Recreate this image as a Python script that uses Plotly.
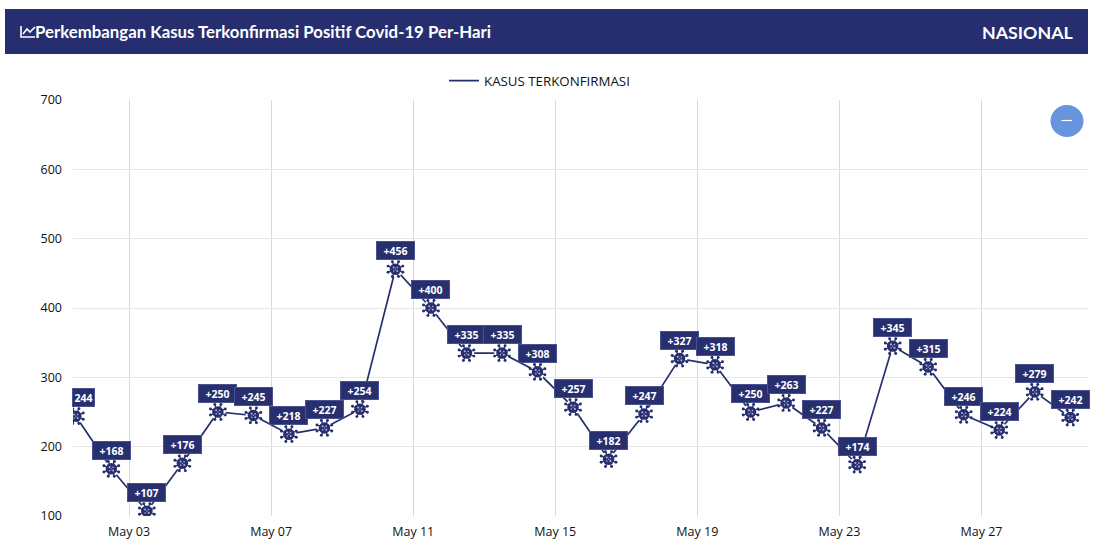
import base64
import math
import plotly.graph_objects as go
import pandas as pd

dates = pd.date_range("2020-05-01", "2020-05-29").strftime("%Y-%m-%d").tolist()
kasus = [244,168,107,176,250,245,218,227,254,456,400,335,335,308,257,182,247,327,318,250,263,227,174,345,315,246,224,279,242]

title_text = "Perkembangan Kasus Terkonfirmasi Positif Covid-19 Per-Hari"
region_text = "NASIONAL"
series_name = "KASUS TERKONFIRMASI"

W, H = 1096, 558
L, R, T, B = 73, 8, 100, 42
NAVY = "#272f6f"
HEAD = "#262e70"
pw, ph = W - L - R, H - T - B
px = lambda v: (v - L) / pw
py = lambda v: 1 - (v - T) / ph

# virus glyph used as the point symbol
spokes = ""
for k in range(8):
    a = math.radians(22.5 + 45 * k)
    c, s = math.cos(a), math.sin(a)
    spokes += (f'<line x1="{4*c:.2f}" y1="{4*s:.2f}" x2="{7.6*c:.2f}" y2="{7.6*s:.2f}" stroke="{NAVY}" stroke-width="1.2"/>'
               f'<circle cx="{7.8*c:.2f}" cy="{7.8*s:.2f}" r="1.45" fill="{NAVY}"/>')
inner = "".join(f'<circle cx="{a}" cy="{b}" r="{r}" fill="#aeb1d2"/>'
                for a, b, r in [(-1.7, -1.7, 1.0), (1.7, -1.5, .8), (1.8, 1.7, 1.0), (-1.6, 1.8, .8), (0, 0, .6)])
svg = (f'<svg xmlns="http://www.w3.org/2000/svg" width="100" height="100" viewBox="-10 -10 20 20">'
       f'<circle r="7.6" fill="white"/>{spokes}<circle r="5.6" fill="{NAVY}"/>{inner}</svg>')
virus = "data:image/svg+xml;base64," + base64.b64encode(svg.encode()).decode()

fig = go.Figure()
common = dict(x=dates, y=kasus, xperiod=86400000, xperiodalignment="middle", hoverinfo="skip")
fig.add_trace(go.Scatter(mode="lines", name=series_name, line=dict(color=NAVY, width=1.7), showlegend=True, **common))

centers = [pd.Timestamp(d) + pd.Timedelta(hours=12) for d in dates]
day_px = pw / ((pd.Timestamp("2020-05-30") - pd.Timestamp("2020-05-01 10:06")).total_seconds() / 86400)
glyph_px = 20.5
images = [dict(source=virus, xref="x", yref="y", x=c, y=v, xanchor="center", yanchor="middle",
               sizex=glyph_px / day_px * 86400000, sizey=glyph_px / (ph / 600), sizing="stretch", layer="above")
          for c, v in zip(centers, kasus)]

annotations = []
for i, (c, v) in enumerate(zip(centers, kasus)):
    first = i == 0
    annotations.append(dict(
        x=c, y=v, xref="x", yref="y",
        text=f"<b>{v}</b>" if first else f"<b>+{v}</b>",
        showarrow=False, yshift=18.5, xshift=7.5 if first else 0,
        font=dict(family="Open Sans", size=10.5, color="white"),
        bgcolor=NAVY, width=21 if first else 37, height=17, borderpad=0, borderwidth=1, bordercolor="#4a5190",
    ))
annotations += [
    dict(x=px(33), y=py(31.5), xref="paper", yref="paper", xanchor="left", yanchor="middle", showarrow=False,
         text=f"<b>{title_text}</b>", font=dict(family="Lato", size=16.8, color="white")),
    dict(x=px(1075), y=py(31.5), xref="paper", yref="paper", xanchor="right", yanchor="middle", showarrow=False,
         text=f"<b>{region_text}</b>", font=dict(family="Lato", size=17.8, color="white")),
]

def path(pts):
    return "M" + " L".join(f"{px(a):.5f},{py(b):.5f}" for a, b in pts)

shapes = [
    dict(type="rect", xref="paper", yref="paper", x0=px(5), x1=px(1088), y0=py(9), y1=py(54),
         fillcolor=HEAD, line=dict(width=0), layer="below"),
    dict(type="path", xref="paper", yref="paper", path=path([(21, 26), (21, 37), (35, 37)]),
         line=dict(color="white", width=1.6)),
    dict(type="path", xref="paper", yref="paper", path=path([(23, 34), (27, 29), (30, 32), (35, 27)]),
         line=dict(color="white", width=1.6)),
    dict(type="circle", xref="paper", yref="paper", x0=px(1050.5), x1=px(1083.5), y0=py(105), y1=py(137),
         fillcolor="#6794dc", line=dict(width=0), layer="above"),
    dict(type="line", xref="paper", yref="paper", x0=px(1061.5), x1=px(1072), y0=py(120.5), y1=py(120.5),
         line=dict(color="white", width=1.2), layer="above"),
]

fig.update_layout(
    width=W, height=H, margin=dict(l=L, r=R, t=T, b=B),
    paper_bgcolor="white", plot_bgcolor="white",
    font=dict(family="Open Sans", size=12.5, color="#111111"),
    annotations=annotations, shapes=shapes, images=images,
    legend=dict(orientation="h", x=px(444), xanchor="left", y=py(81), yanchor="middle",
                font=dict(family="Open Sans", size=13.3, color="#111111"), itemwidth=30, bgcolor="rgba(0,0,0,0)"),
    xaxis=dict(type="date", range=["2020-05-01 10:06", "2020-05-30 00:00"], tick0="2020-05-03", dtick=4 * 86400000,
               tickformat="%b %d", ticks="", showline=False, gridcolor="#d9d9d9", gridwidth=1, zeroline=False,
               ticklabelstandoff=6),
    yaxis=dict(range=[100, 700], dtick=100, ticks="", showline=False, gridcolor="#e6e6e6", gridwidth=1, zeroline=False,
               ticklabelstandoff=10),
)
fig.write_html("out.html", config=dict(displayModeBar=False),
               post_script="document.body.style.margin='0';document.body.style.overflow='hidden';")
